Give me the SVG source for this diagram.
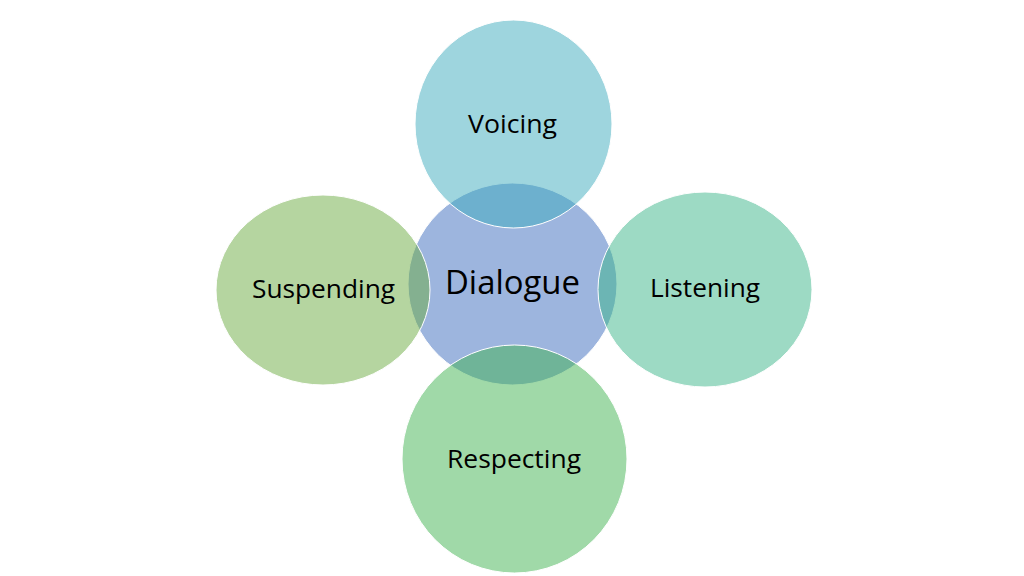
<svg xmlns="http://www.w3.org/2000/svg" width="1024" height="576" viewBox="0 0 1024 576">
<style>
  .c { stroke: #ffffff; stroke-width: 1; fill-opacity: 0.5; }
  .t { font-family: "Open Sans", "Noto Sans", "Liberation Sans", sans-serif; font-size: 25px; fill: #000000; text-anchor: middle; }
  .big { font-size: 33px; }
</style>
<rect width="1024" height="576" fill="#ffffff"/>
<g id="dialogue">
  <ellipse class="c" cx="512.5" cy="284" rx="104.5" ry="101" fill="#3b6bbd"/>
  <text class="t big" x="512.5" y="294" textLength="135" lengthAdjust="spacingAndGlyphs">Dialogue</text>
</g>
<g id="voicing">
  <ellipse class="c" cx="513.5" cy="124" rx="98.5" ry="104" fill="#3dabbd"/>
  <text class="t" x="512.5" y="133" textLength="89" lengthAdjust="spacingAndGlyphs">Voicing</text>
</g>
<g id="suspending">
  <ellipse class="c" cx="323" cy="290" rx="107" ry="95" fill="#6bab41"/>
  <text class="t" x="323.5" y="298" textLength="143" lengthAdjust="spacingAndGlyphs">Suspending</text>
</g>
<g id="listening">
  <ellipse class="c" cx="705" cy="289.5" rx="107" ry="97.5" fill="#3bb589"/>
  <text class="t" x="705" y="297" textLength="110" lengthAdjust="spacingAndGlyphs">Listening</text>
</g>
<g id="respecting">
  <ellipse class="c" cx="514.5" cy="459" rx="112.5" ry="114" fill="#41b351"/>
  <text class="t" x="514" y="468" textLength="134" lengthAdjust="spacingAndGlyphs">Respecting</text>
</g>
<g id="connectors"></g>
</svg>
